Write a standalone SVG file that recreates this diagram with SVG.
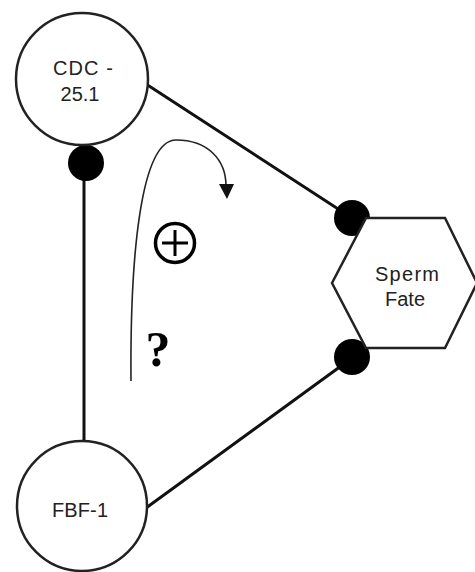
<svg xmlns="http://www.w3.org/2000/svg" width="475" height="572" viewBox="0 0 475 572">
  <style>
    .node { fill: #fff; stroke: #222; stroke-width: 2.5; }
    .label { font-family: "Liberation Sans", Arial, sans-serif; font-size: 20px; fill: #222; text-anchor: middle; }
    .edge { stroke: #111; stroke-width: 3; fill: none; }
    .dot { fill: #000; }
  </style>
  <rect width="475" height="572" fill="#fff"/>

  <g id="connectors">
    <line class="edge" x1="84" y1="163" x2="84" y2="442"/>
    <line class="edge" x1="146" y1="84" x2="352" y2="218"/>
    <line class="edge" x1="146" y1="508" x2="352" y2="358"/>
    <circle class="dot" cx="86" cy="163" r="18"/>
    <circle class="dot" cx="352" cy="218" r="18"/>
    <circle class="dot" cx="352" cy="357" r="18"/>
  </g>

  <g id="cdc-25-1">
    <circle class="node" cx="82" cy="79" r="66"/>
    <text class="label" x="83" y="75" textLength="60">CDC -</text>
    <text class="label" x="80" y="101">25.1</text>
  </g>

  <g id="fbf-1">
    <circle class="node" cx="82" cy="506" r="65"/>
    <text class="label" x="80" y="517" textLength="56">FBF-1</text>
  </g>

  <g id="sperm-fate">
    <polygon class="node" points="332,283 366,218 445,218 477,283 445,348 366,348"/>
    <text class="label" x="407" y="281" textLength="64">Sperm</text>
    <text class="label" x="405" y="306">Fate</text>
  </g>

  <g id="feedback">
    <path d="M131,381 C130,260 140,140 176,140 C208,140 226,160 226,186" fill="none" stroke="#222" stroke-width="1.6"/>
    <polygon points="219,184 234,184 227,199" fill="#111"/>
    <circle cx="175" cy="243" r="19.5" fill="none" stroke="#000" stroke-width="3.5"/>
    <path d="M162,243 H188 M175,230 V256" stroke="#000" stroke-width="3"/>
    <text x="158" y="366" font-family="Liberation Serif, 'Times New Roman', serif" font-weight="bold" font-size="50" fill="#000" text-anchor="middle">?</text>
  </g>
</svg>
